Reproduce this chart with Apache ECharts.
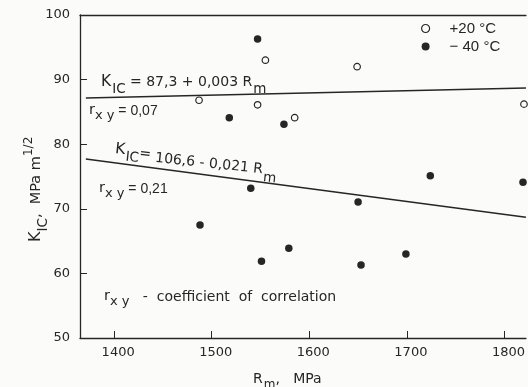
<!DOCTYPE html>
<html>
<head>
<meta charset="utf-8">
<script src="https://cdn.jsdelivr.net/npm/echarts@6/dist/echarts.min.js"></script>
<style>
html,body{margin:0;padding:0;background:#fbfbfa;}
#chart{width:528px;height:387px;}
</style>
</head>
<body>
<div id="chart"></div>
<script>
// ---- data ----
const xTickValues = [1400, 1500, 1600, 1700, 1800];
const yTickValues = [50, 60, 70, 80, 90, 100];
const warmRm = [1487, 1547, 1555, 1649, 1585, 1820];
const warmKic = [86.8, 86.1, 93.0, 92.0, 84.1, 86.2];
const coldRm = [1547, 1518, 1574, 1540, 1724, 1819, 1650, 1488, 1551, 1579, 1653, 1699];
const coldKic = [96.3, 84.1, 83.1, 73.2, 75.1, 74.1, 71.05, 67.5, 61.9, 63.9, 61.3, 63.0];
const fitWarmRm = [1371, 1822];
const fitWarmKic = [87.15, 88.7];
const fitColdRm = [1371, 1822];
const fitColdKic = [77.7, 68.7];
const legendNames = ['+20 °C', '\u2212 40 °C'];

const FONT = '"DejaVu Sans", sans-serif';
const LFONT = '"Liberation Sans", Arial, sans-serif';
const INK = '#262626';

const zip = (a, b) => a.map((v, i) => [v, b[i]]);

const chart = echarts.init(document.getElementById('chart'), null, {renderer: 'canvas'});

function st(size, pad, extra) {
  return Object.assign({fontSize: size, fontFamily: FONT, color: INK, verticalAlign: 'top',
    lineHeight: size + 2, padding: [pad, 0, 0, 0]}, extra || {});
}
const subRich = {
  b: st(15.5, 0),
  s: st(13.5, 8, {padding: [8, 0, 0, 1]}),
  n: st(14, 1),
  e2: st(14, 3),
  n2: st(14, 6),
  s2: st(13.5, 14, {padding: [14, 0, 0, 1]}),
  r: st(14.5, 0),
  rs: st(13, 6),
  rn: st(14, 1, {fontFamily: LFONT}),
  sp: st(12, 0),
  ym: st(14.5, 6),
  ys: st(13.5, 13),
  yb: st(16, 5),
  xn: st(14, 0),
  xs: st(12, 7, {padding: [7, 0, 0, 1]}),
  c: st(14, 1)
};

function txt(x, y, text, rot) {
  return {
    type: 'text', x: x, y: y, rotation: rot || 0,
    style: {text: text, rich: subRich, font: '14px ' + FONT, fill: INK, textVerticalAlign: 'top'},
    z: 10
  };
}

const option = {
  backgroundColor: '#fbfbfa',
  animation: false,
  grid: {left: 80, right: 0, top: 15, bottom: 49},
  legend: {
    left: 416, top: 16, orient: 'vertical',
    itemWidth: 8, itemHeight: 8, itemGap: 3,
    textStyle: {fontSize: 15, fontFamily: LFONT, color: INK, padding: [0, 0, 0, 15]},
    data: [
      {name: legendNames[0], icon: 'circle', itemStyle: {color: 'transparent', borderColor: INK, borderWidth: 1.2}},
      {name: legendNames[1], icon: 'circle', itemStyle: {color: INK}}
    ]
  },
  xAxis: [{
    type: 'value', min: 1365, max: 1822,
    axisLine: {show: true, onZero: false, lineStyle: {color: INK, width: 1.3}},
    axisTick: {show: true, inside: true, length: 7, customValues: xTickValues, lineStyle: {color: INK}},
    axisLabel: {customValues: xTickValues, formatter: v => String(v), fontSize: 13, fontFamily: FONT,
      color: INK, margin: 8, padding: [0, 0, 0, 8]},
    splitLine: {show: false}
  }, {
    type: 'value', position: 'top', min: 1365, max: 1822,
    axisLine: {show: true, onZero: false, lineStyle: {color: INK, width: 1.3}},
    axisTick: {show: false}, axisLabel: {show: false}, splitLine: {show: false}
  }],
  yAxis: {
    type: 'value', min: yTickValues[0], max: yTickValues[yTickValues.length - 1], interval: 10,
    axisLine: {show: true, onZero: false, lineStyle: {color: INK, width: 1.3}},
    axisTick: {show: true, inside: true, length: 7, lineStyle: {color: INK}},
    axisLabel: {fontSize: 13, fontFamily: FONT, color: INK, margin: 10},
    splitLine: {show: false}
  },
  series: [
    {
      name: legendNames[0], type: 'scatter', symbol: 'circle', symbolSize: 6.5,
      itemStyle: {color: '#fbfbfa', borderColor: INK, borderWidth: 1.2, opacity: 1},
      data: zip(warmRm, warmKic), z: 5
    },
    {
      name: legendNames[1], type: 'scatter', symbol: 'circle', symbolSize: 7.5,
      itemStyle: {color: INK, opacity: 1},
      data: zip(coldRm, coldKic), z: 5
    },
    {
      type: 'line', data: zip(fitWarmRm, fitWarmKic), showSymbol: false, symbol: 'none',
      lineStyle: {color: INK, width: 1.5}, silent: true, z: 3
    },
    {
      type: 'line', data: zip(fitColdRm, fitColdKic), showSymbol: false, symbol: 'none',
      lineStyle: {color: INK, width: 1.5}, silent: true, z: 3
    }
  ],
  graphic: [
    txt(101, 74, '{b|K}{s|IC}{n| = 87,3 + 0,003 R}{s|m}'),
    txt(89, 103, '{r|r}{rs|x y}{rn| = 0,07}'),
    txt(116, 141, '{b|K}{s|IC}{e2|=}{n2| 106,6 - 0,021 R}{s2|m}', -0.105),
    txt(99, 181, '{r|r}{rs|x y}{rn| = 0,21}'),
    txt(104, 289, '{r|r}{rs|x y}{c|   -  coefficient  of  correlation}'),
    txt(253, 372, '{xn|R}{xs|m}{xn|,   MPa}'),
    txt(23, 242, '{yb|K}{ys|IC}{ym|,  MPa m}{sp|1/2}', Math.PI / 2)
  ]
};
chart.setOption(option);
</script>
</body>
</html>
